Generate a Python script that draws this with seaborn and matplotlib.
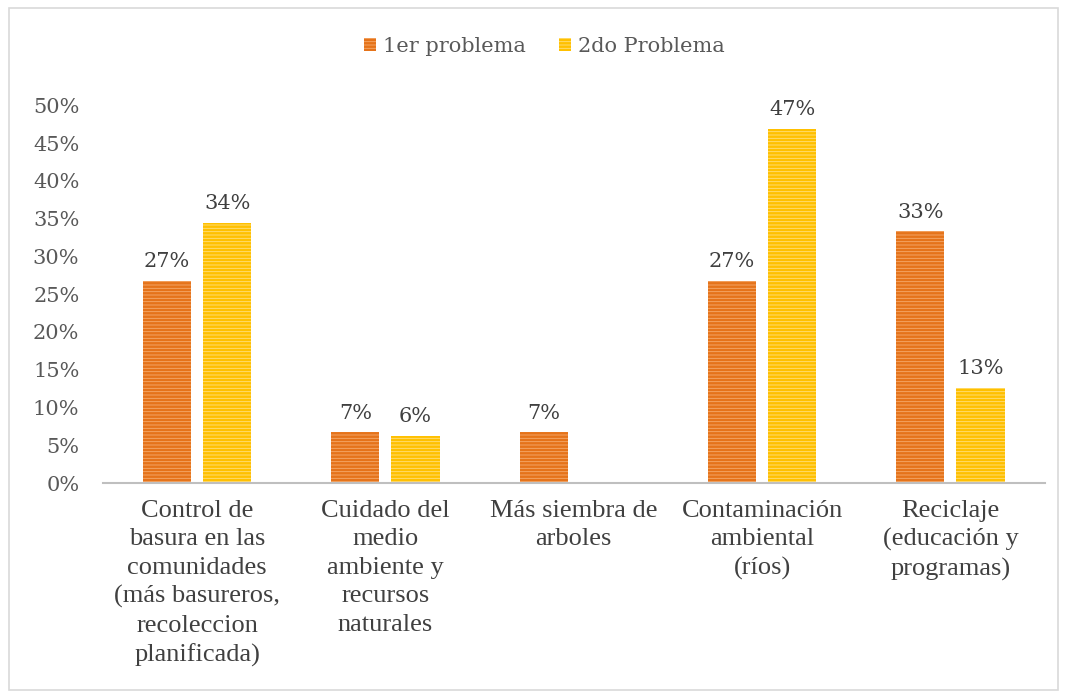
import pandas as pd
import matplotlib.pyplot as plt
import seaborn as sns
from matplotlib.patches import Patch, Rectangle

categorias = [
    "Control de\nbasura en las\ncomunidades\n(más basureros,\nrecoleccion\nplanificada)",
    "Cuidado del\nmedio\nambiente y\nrecursos\nnaturales",
    "Más siembra de\narboles",
    "Contaminación\nambiental\n(ríos)",
    "Reciclaje\n(educación y\nprogramas)",
]
series = ["1er problema", "2do Problema"]
primer_problema = [26.7, 6.7, 6.7, 26.7, 33.3]
segundo_problema = [34.4, 6.2, 0.0, 46.9, 12.6]

colores = {"1er problema": "#E5731A", "2do Problema": "#FFC000"}
rayas = {"1er problema": "#F6AC6E", "2do Problema": "#FFE080"}

df = pd.DataFrame({
    "categoria": categorias * 2,
    "serie": [series[0]] * 5 + [series[1]] * 5,
    "valor": primer_problema + segundo_problema,
})

sns.set_style("white")
plt.rcParams["font.family"] = ["DejaVu Serif", "Liberation Serif"]
plt.rcParams["hatch.linewidth"] = 0.6

fig = plt.figure(figsize=(10.67, 6.97), dpi=100)
ax = fig.add_axes([0.0965, 0.307, 0.8825, 0.542])

sns.barplot(data=df, x="categoria", y="valor", hue="serie", hue_order=series,
            palette=colores, saturation=1, width=0.64, gap=0.2, ax=ax, legend=False)

for cont, s in zip(ax.containers, series):
    for bar, v in zip(cont, df[df["serie"] == s]["valor"]):
        bar.set_hatch("-----")
        bar.set_edgecolor(rayas[s])
        bar.set_linewidth(0)
        if v > 0:
            ax.text(bar.get_x() + bar.get_width() / 2, v + 1.3, f"{round(v)}%",
                    ha="center", va="bottom", fontsize=15, color="#404040")

ax.set_ylim(0, 50)
ax.set_yticks(range(0, 51, 5))
ax.set_yticklabels([f"{t}%" for t in range(0, 51, 5)], fontsize=15, color="#595959")
ax.set_xlabel("")
ax.set_ylabel("")
ax.tick_params(axis="y", length=0, pad=17)
ax.tick_params(axis="x", length=0, pad=12)
for lab in ax.get_xticklabels():
    lab.set_fontsize(19)
    lab.set_family("Liberation Serif")
    lab.set_color("#404040")
    lab.set_linespacing(1.38)

for side in ["top", "right", "left"]:
    ax.spines[side].set_visible(False)
ax.spines["bottom"].set_color("#BFBFBF")
ax.spines["bottom"].set_linewidth(1.5)

handles = [Patch(facecolor=colores[s], edgecolor=rayas[s], hatch="-----", linewidth=0)
           for s in series]
fig.legend(handles, series, loc="center", bbox_to_anchor=(0.51, 0.934), ncol=2,
           frameon=False, fontsize=15, handlelength=0.6, handleheight=0.6,
           handletextpad=0.3, columnspacing=1.6, labelcolor="#595959")

fig.patches.append(Rectangle((0.008, 0.01), 0.984, 0.978, transform=fig.transFigure,
                             fill=False, edgecolor="#D9D9D9", linewidth=1.2))

fig.savefig("out.png", dpi=100)
